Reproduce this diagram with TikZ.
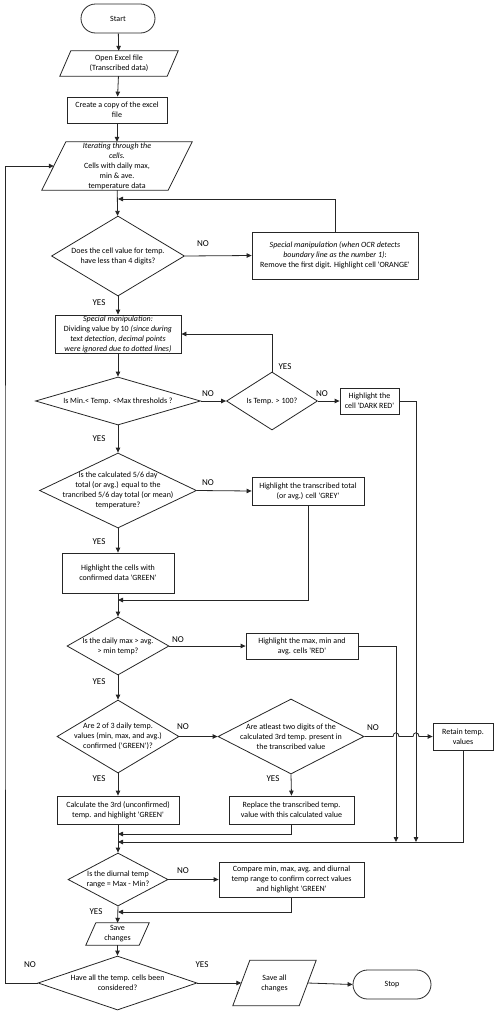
\documentclass[tikz,border=0pt]{standalone}
\usepackage{fontspec}
\setmainfont{Carlito}[Ligatures=TeXOff]
\usetikzlibrary{shapes.geometric,shapes.misc,arrows.meta}
\begin{document}
\begin{tikzpicture}[x=1pt,y=-1pt,
  every node/.style={font=\fontsize{8}{10}\selectfont},
  ln/.style={line width=0.8pt, draw=black!85},
  arr/.style={ln, -{Triangle[length=5pt,width=4.5pt]}},
  box/.style={ln, rectangle, align=center, inner sep=1pt},
  dia/.style={ln, diamond, inner sep=0pt},
  parabody/.style={rectangle, align=center, inner sep=0pt},
  term/.style={ln, rounded rectangle, inner sep=0pt},
  txt/.style={align=center, inner sep=0pt},
  yn/.style={font=\fontsize{9}{11}\selectfont, inner sep=0pt},
]
\useasboundingbox (0,0) rectangle (500,1015);

% ---- nodes
\node[term, minimum width=74pt, minimum height=29pt] (start) at (118,18.5) {Start};
\node[parabody, minimum width=107pt, minimum height=25pt] (open) at (119,63.5) {Open Excel file\\(Transcribed data)};
\draw[ln] ([xshift=5.5pt]open.north west) -- ([xshift=5.5pt]open.north east) -- ([xshift=-5.5pt]open.south east) -- ([xshift=-5.5pt]open.south west) -- cycle;
\node[box, minimum width=100pt, minimum height=26pt] (copy) at (117,110) {Create a copy of the excel\\file};
\node[parabody, minimum width=126pt, minimum height=48pt] (iter) at (117,166) {\textit{Iterating through the}\\\textit{cells.}\\Cells with daily max,\\min \& ave.\\temperature data};
\draw[ln] ([xshift=12pt]iter.north west) -- ([xshift=12pt]iter.north east) -- ([xshift=-12pt]iter.south east) -- ([xshift=-12pt]iter.south west) -- cycle;

\node[dia, minimum width=133pt, minimum height=80pt] (d1) at (118,256) {};
\node[txt] (d1t) at (d1) {Does the cell value for temp.\\have less than 4 digits?};
\node[box, minimum width=166pt, minimum height=47pt] (sp1) at (335,255.5) {\textit{Special manipulation (when OCR detects}\\\textit{boundary line as the number 1)}:\\Remove the first digit. Highlight cell 'ORANGE'};
\node[box, minimum width=126pt, minimum height=38pt, inner sep=0pt] (sp2) at (118,334) {\textit{Special manipulation:}\\Dividing value by 10 \textit{(since during}\\\textit{text detection, decimal points}\\\textit{were ignored due to dotted lines)}};

\node[dia, minimum width=165pt, minimum height=48pt] (d2) at (118,401) {};
\node[txt] (d2t) at (d2) {Is Min.< Temp. <Max thresholds ?};
\node[dia, minimum width=91pt, minimum height=58pt] (d3) at (272,401) {};
\node[txt] (d3t) at (d3) {Is Temp. > 100?};
\node[box, minimum width=59pt, minimum height=26pt] (dr) at (369.5,401) {Highlight the\\cell 'DARK RED'};

\node[dia, minimum width=157pt, minimum height=75pt] (d4) at (118,490.5) {};
\node[txt] (d4t) at (d4) {Is the calculated 5/6 day\\total (or avg.) equal to the\\trancribed 5/6 day total (or mean)\\temperature?};
\node[box, minimum width=112pt, minimum height=28pt] (grey) at (308,491) {Highlight the transcribed total\\(or avg.) cell 'GREY'};
\node[box, minimum width=112pt, minimum height=40pt] (green) at (118,573) {Highlight the cells with\\confirmed data 'GREEN'};

\node[dia, minimum width=102pt, minimum height=58pt] (d5) at (118,646) {};
\node[txt] (d5t) at (d5) {Is the daily max > avg.\\> min temp?};
\node[box, minimum width=112pt, minimum height=26pt] (red) at (302,646) {Highlight the max, min and\\avg. cells 'RED'};

\node[dia, minimum width=122pt, minimum height=73pt] (d6) at (118,736.5) {};
\node[txt] (d6t) at (d6) {Are 2 of 3 daily temp.\\values (min, max, and avg.)\\confirmed ('GREEN')?};
\node[dia, minimum width=146pt, minimum height=75pt] (d7) at (291,736.5) {};
\node[txt] (d7t) at (d7) {Are atleast two digits of the\\calculated 3rd temp. present in\\the transcribed value};
\node[box, minimum width=60pt, minimum height=27pt] (ret) at (463,736.5) {Retain temp.\\values};

\node[box, minimum width=122pt, minimum height=28pt] (calc) at (118,810) {Calculate the 3rd (unconfirmed)\\temp. and highlight 'GREEN'};
\node[box, minimum width=125pt, minimum height=28pt] (repl) at (291.5,810) {Replace the transcribed temp.\\value with this calculated value};

\node[dia, minimum width=100pt, minimum height=53pt] (d8) at (118,879.5) {};
\node[txt] (d8t) at (d8) {Is the diurnal temp\\range = Max - Min?};
\node[box, minimum width=145pt, minimum height=35pt] (cmp) at (291.5,879.5) {Compare min, max, avg. and diurnal\\temp range to confirm correct values\\and highlight 'GREEN'};

\node[parabody, minimum width=53pt, minimum height=22pt] (save) at (117.5,934) {Save\\changes};
\draw[ln] ([xshift=5pt]save.north west) -- ([xshift=5pt]save.north east) -- ([xshift=-5pt]save.south east) -- ([xshift=-5pt]save.south west) -- cycle;
\node[dia, minimum width=159pt, minimum height=54pt] (d9) at (117.5,983) {};
\node[txt] (d9t) at (d9) {Have all the temp. cells been\\considered?};
\node[parabody, minimum width=66pt, minimum height=45pt] (saveall) at (274.5,983) {Save all\\changes};
\draw[ln] ([xshift=8.5pt]saveall.north west) -- ([xshift=8.5pt]saveall.north east) -- ([xshift=-8.5pt]saveall.south east) -- ([xshift=-8.5pt]saveall.south west) -- cycle;
\node[term, minimum width=78pt, minimum height=29pt] (stop) at (392,984.5) {Stop};

% ---- join coordinates
\coordinate (j1) at (118,199);
\coordinate (j2) at (118,600);
\coordinate (j3) at (118,834);
\coordinate (j4) at (118,842);
\coordinate (j5) at (118,912);
\coordinate (v1) at (416,842);
\coordinate (v2) at (396,842);
\coordinate (lp) at (5,600);
\coordinate (h1a) at (393,736.5);
\coordinate (h1b) at (399,736.5);
\coordinate (h2a) at (413,736.5);
\coordinate (h2b) at (419,736.5);

% ---- connectors
\draw[arr] (start) -- (open);
\draw[arr] (open) -- (copy);
\draw[arr] (copy) -- (iter);
\draw[arr] (iter) -- (d1);
\draw[arr] (sp1.north) |- (j1);
\draw[arr] (d1.east) -- (sp1.west);
\draw[arr] (d1.south) -- (sp2.north);
\draw[arr] (sp2.south) -- (d2.north);
\draw[arr] (d2.east) -- (d3.west);
\draw[arr] (d3.north) |- (sp2.east);
\draw[arr] (d3.east) -- (dr.west);
\draw[arr] (dr.east) -| (v1);
\draw[arr] (d2.south) -- (d4.north);
\draw[arr] (d4.east) -- (grey.west);
\draw[arr] (grey.south) |- (j2);
\draw[arr] (d4.south) -- (green.north);
\draw[arr] (green.south) -- (d5.north);
\draw[arr] (d5.east) -- (red.west);
\draw[arr] (red.east) -| (v2);
\draw[arr] (d5.south) -- (d6.north);
\draw[arr] (d6.east) -- (d7.west);
\draw[arr] (d7.east) -- (h1a) .. controls (393,731.5) and (399,731.5) .. (h1b)
   -- (h2a) .. controls (413,731.5) and (419,731.5) .. (h2b) -- (ret.west);
\draw[arr] (d6.south) -- (calc.north);
\draw[arr] (d7.south) -- (repl.north);
\draw[arr] (repl.south) |- (j3);
\draw[arr] (ret.south) |- (j4);
\draw[arr] (calc.south) -- (d8.north);
\draw[arr] (d8.east) -- (cmp.west);
\draw[arr] (cmp.south) |- (j5);
\draw[arr] (d8.south) -- (save.north);
\draw[arr] (save.south) -- (d9.north);
\draw[arr] (d9.west) -| (lp) |- (iter.west);
\draw[arr] (d9.east) -- (saveall.west);
\draw[arr] (saveall.east) -- (stop.west);

% ---- labels
\node[yn] (n1) at (203,244) {NO};
\node[yn] (y1) at (99,303) {YES};
\node[yn] (n2) at (208,394) {NO};
\node[yn] (y3) at (285,367) {YES};
\node[yn] (n3) at (322,394) {NO};
\node[yn] (y2) at (99,439) {YES};
\node[yn] (n4) at (208,483) {NO};
\node[yn] (y4) at (99,542) {YES};
\node[yn] (n5) at (178,640) {NO};
\node[yn] (y5) at (99,682) {YES};
\node[yn] (n6) at (183,727) {NO};
\node[yn] (n7) at (373,728) {NO};
\node[yn] (y6) at (99,779) {YES};
\node[yn] (y7) at (273,779) {YES};
\node[yn] (n8) at (183,871) {NO};
\node[yn] (y8) at (96,912) {YES};
\node[yn] (n9) at (30,965) {NO};
\node[yn] (y9) at (202,965) {YES};
\end{tikzpicture}
\end{document}
